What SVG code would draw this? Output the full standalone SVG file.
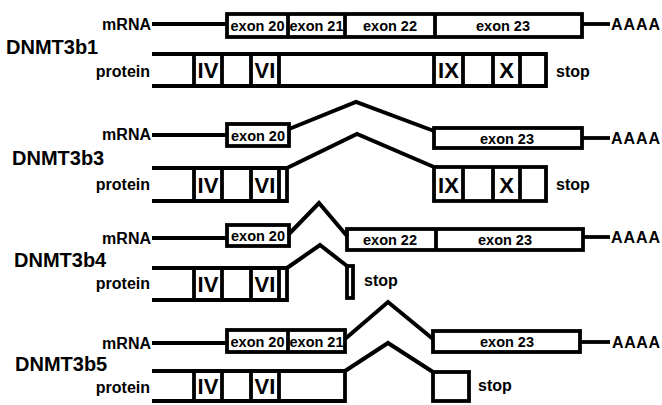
<svg xmlns="http://www.w3.org/2000/svg" width="662" height="405" viewBox="0 0 662 405">
<style>
  .bx { fill: #fff; stroke: #000; stroke-width: 3.8; }
  .ln { fill: none; stroke: #000; stroke-width: 3.8; stroke-linejoin: miter; }
  .cn { fill: none; stroke: #000; stroke-width: 4; stroke-linejoin: miter; }
  text { font-family: "Liberation Sans", Arial, sans-serif; font-weight: bold; fill: #000; }
  .iso { font-size: 20px; }
  .lab { font-size: 16px; }
  .ex { font-size: 14.5px; text-anchor: middle; }
  .rn { font-size: 22px; text-anchor: middle; }
  .end { text-anchor: end; }
</style>
<rect width="662" height="405" fill="#fff"/>

<!-- DNMT3b1 -->
<g id="iso-b1">
  <text class="iso" x="6" y="54">DNMT3b1</text>
</g>
<g id="mrna-b1">
  <text class="lab end" x="151" y="30">mRNA</text>
  <line class="ln" x1="152" y1="24" x2="227" y2="24"/>
  <rect class="bx" x="227" y="14" width="355" height="23"/>
  <line class="ln" x1="288" y1="14" x2="288" y2="37"/>
  <line class="ln" x1="345" y1="14" x2="345" y2="37"/>
  <line class="ln" x1="435" y1="14" x2="435" y2="37"/>
  <line class="ln" x1="582" y1="24" x2="610" y2="24"/>
  <text class="ex" x="257.5" y="30.5">exon 20</text>
  <text class="ex" x="316.5" y="30.5">exon 21</text>
  <text class="ex" x="390" y="30.5">exon 22</text>
  <text class="ex" x="503" y="30.5">exon 23</text>
  <text class="lab" x="611" y="30" textLength="49">AAAA</text>
</g>
<g id="protein-b1">
  <text class="lab end" x="150" y="77">protein</text>
  <path class="ln" d="M152,54 H546 V86 H152"/>
  <path class="ln" d="M194,54 V86 M222,54 V86 M251,54 V86 M279,54 V86 M434,54 V86 M463,54 V86 M493,54 V86 M520,54 V86"/>
  <text class="rn" x="208" y="78">IV</text>
  <text class="rn" x="265" y="78">VI</text>
  <text class="rn" x="448.5" y="78">IX</text>
  <text class="rn" x="506.5" y="78">X</text>
  <text class="lab" x="556" y="77">stop</text>
</g>

<!-- DNMT3b3 -->
<g id="iso-b3">
  <text class="iso" x="12" y="165">DNMT3b3</text>
</g>
<g id="mrna-b3">
  <text class="lab end" x="151" y="140">mRNA</text>
  <line class="ln" x1="152" y1="135" x2="227" y2="135"/>
  <rect class="bx" x="227" y="124" width="62" height="22"/>
  <text class="ex" x="258" y="140.5">exon 20</text>
  <rect class="bx" x="434" y="128" width="148" height="20"/>
  <text class="ex" x="507" y="143.5">exon 23</text>
  <line class="ln" x1="582" y1="138" x2="610" y2="138"/>
  <text class="lab" x="611" y="143.5" textLength="49">AAAA</text>
</g>
<g id="protein-b3">
  <text class="lab end" x="150" y="190">protein</text>
  <path class="ln" d="M152,168 H287 V201 H152"/>
  <path class="ln" d="M194,168 V201 M222,168 V201 M251,168 V201 M279,168 V201"/>
  <rect class="bx" x="434" y="167" width="112" height="34"/>
  <path class="ln" d="M463,167 V201 M493,167 V201 M520,167 V201"/>
  <text class="rn" x="208" y="192.5">IV</text>
  <text class="rn" x="265" y="192.5">VI</text>
  <text class="rn" x="448.5" y="192.5">IX</text>
  <text class="rn" x="506.5" y="192.5">X</text>
  <text class="lab" x="556" y="190">stop</text>
</g>

<!-- DNMT3b4 -->
<g id="iso-b4">
  <text class="iso" x="14" y="267">DNMT3b4</text>
</g>
<g id="mrna-b4">
  <text class="lab end" x="151" y="243.5">mRNA</text>
  <line class="ln" x1="152" y1="238" x2="227" y2="238"/>
  <rect class="bx" x="227" y="225" width="62" height="21"/>
  <text class="ex" x="258" y="241">exon 20</text>
  <rect class="bx" x="347" y="229" width="236" height="21"/>
  <line class="ln" x1="436" y1="229" x2="436" y2="250"/>
  <text class="ex" x="390" y="245">exon 22</text>
  <text class="ex" x="505" y="245">exon 23</text>
  <line class="ln" x1="583" y1="237" x2="610" y2="237"/>
  <text class="lab" x="611" y="243" textLength="49">AAAA</text>
</g>
<g id="protein-b4">
  <text class="lab end" x="150" y="289">protein</text>
  <path class="ln" d="M152,268 H287 V300 H152"/>
  <path class="ln" d="M194,268 V300 M222,268 V300 M251,268 V300 M279,268 V300"/>
  <text class="rn" x="208" y="292">IV</text>
  <text class="rn" x="265" y="292">VI</text>
  <rect class="bx" x="347" y="266" width="6" height="32"/>
  <text class="lab" x="364" y="286">stop</text>
</g>

<!-- DNMT3b5 -->
<g id="iso-b5">
  <text class="iso" x="15" y="371">DNMT3b5</text>
</g>
<g id="mrna-b5">
  <text class="lab end" x="151" y="348.5">mRNA</text>
  <line class="ln" x1="152" y1="343" x2="227" y2="343"/>
  <rect class="bx" x="227" y="330" width="118" height="22"/>
  <line class="ln" x1="288" y1="330" x2="288" y2="352"/>
  <text class="ex" x="257.5" y="346.5">exon 20</text>
  <text class="ex" x="316.5" y="346.5">exon 21</text>
  <rect class="bx" x="433" y="331" width="147" height="21"/>
  <text class="ex" x="507" y="347">exon 23</text>
  <line class="ln" x1="580" y1="342" x2="610" y2="342"/>
  <text class="lab" x="612" y="347.5" textLength="48">AAAA</text>
</g>
<g id="protein-b5">
  <text class="lab end" x="150" y="393">protein</text>
  <path class="ln" d="M152,371 H345 V401 H152"/>
  <path class="ln" d="M194,371 V401 M222,371 V401 M251,371 V401 M279,371 V401"/>
  <text class="rn" x="208" y="394">IV</text>
  <text class="rn" x="265" y="394">VI</text>
  <rect class="bx" x="433" y="372" width="36" height="29"/>
  <text class="lab" x="478" y="391">stop</text>
</g>

<!-- splice connectors -->
<g id="connectors">
  <polyline class="cn" points="289,129 356,102 434,131"/>
  <polyline class="cn" points="287,168 357,134 434,167"/>
  <polyline class="cn" points="289,234 319,203 347,236"/>
  <polyline class="cn" points="287,268 320,245 347,266"/>
  <polyline class="cn" points="345,339 388,302 433,339"/>
  <polyline class="cn" points="345,371 388,343 433,372"/>
</g>
</svg>
